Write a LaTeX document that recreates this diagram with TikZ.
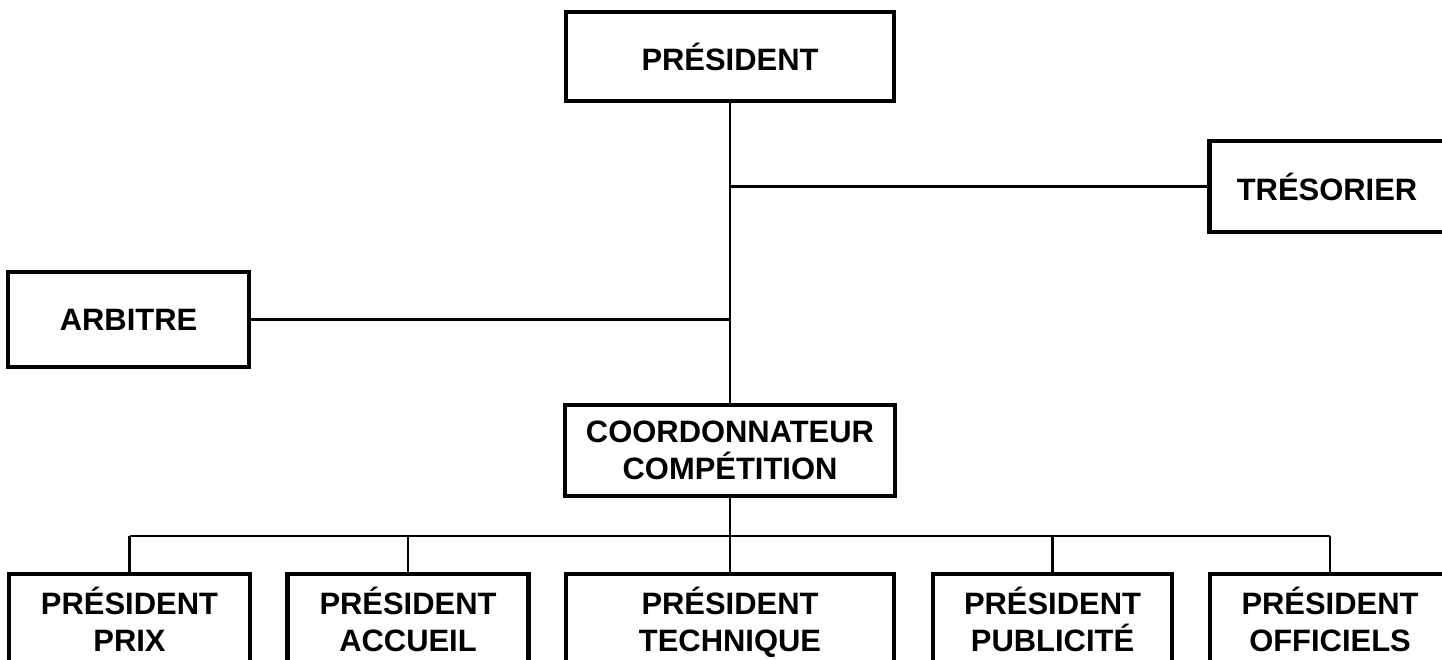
\documentclass[tikz,border=0pt]{standalone}
\usepackage{fontspec}
\setmainfont{Liberation Sans}
\usetikzlibrary{positioning}

\tikzset{
  post/.style={draw,line width=2.3pt,inner sep=0pt,align=center,
    font=\fontsize{17.6pt}{21pt}\selectfont\bfseries},
  chair/.style={post,minimum height=1.92cm,text depth=3.5pt},
  link/.style={line width=1.3pt}
}

\begin{document}
\begin{tikzpicture}
\useasboundingbox (0,0) rectangle (28.84,13.2);
\clip (0,0) rectangle (28.84,13.2);
% top of the chart
\node[post,minimum width=6.56cm,minimum height=1.78cm] (pres) at (14.6,12.07) {PRÉSIDENT};
\node[post,minimum width=4.7cm,minimum height=1.82cm] (tres) at (26.54,9.47) {TRÉSORIER};
\node[post,minimum width=4.82cm,minimum height=1.9cm] (arb) at (2.57,6.81) {ARBITRE};
\node[post,minimum width=6.6cm,minimum height=1.82cm] (coord) at (14.6,4.19)
  {COORDONNATEUR\\COMPÉTITION};
% committee presidents
\node[chair,minimum width=4.82cm] (prix) at (2.59,0.76) {PRÉSIDENT\\PRIX};
\node[chair,minimum width=4.82cm] (accu) at (8.16,0.76) {PRÉSIDENT\\ACCUEIL};
\node[chair,minimum width=6.56cm] (tech) at (14.6,0.76) {PRÉSIDENT\\TECHNIQUE};
\node[chair,minimum width=4.78cm] (publ) at (21.05,0.76) {PRÉSIDENT\\PUBLICITÉ};
\node[chair,minimum width=4.8cm] (offi) at (26.6,0.76) {PRÉSIDENT\\OFFICIELS};
% connectors
\coordinate (bus) at (14.6,2.48);
\draw[link] (pres.south) -- (coord.north);
\draw[link] (tres.west) -- (tres.west -| pres.south);
\draw[link] (arb.east) -- (arb.east -| pres.south);
\draw[link] (coord.south) -- (bus);
\draw[link] (prix.north |- bus) -- (offi.north |- bus);
\foreach \n in {prix,accu,tech,publ,offi}
  \draw[link] (\n.north) -- (\n.north |- bus);
\end{tikzpicture}
\end{document}
